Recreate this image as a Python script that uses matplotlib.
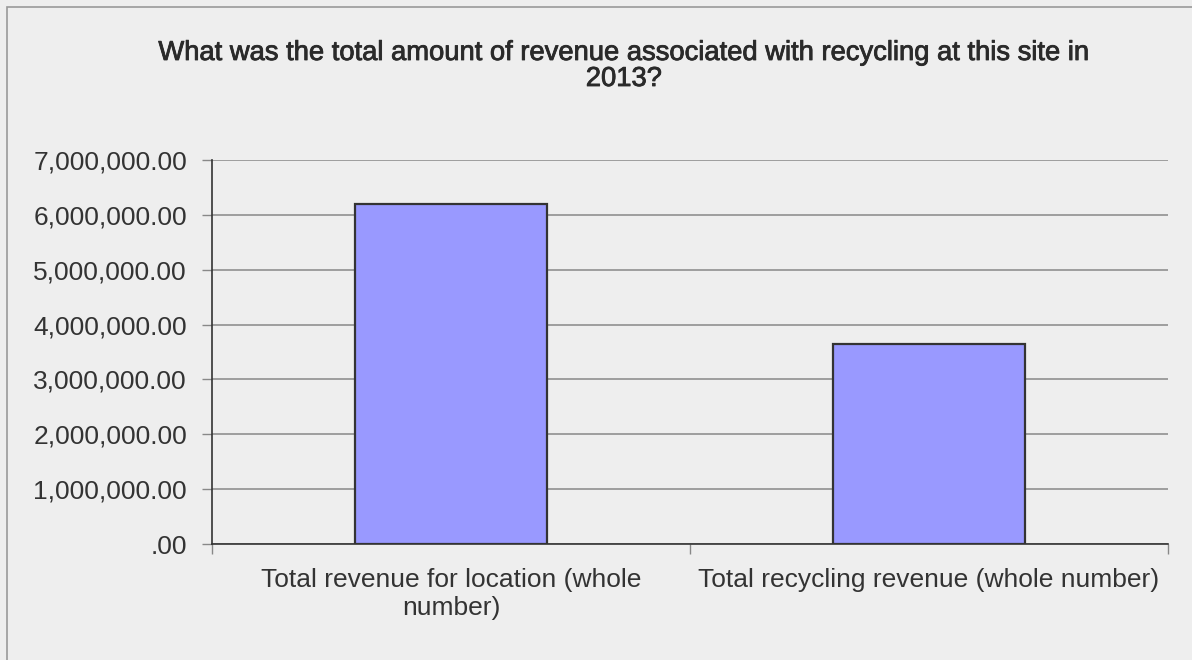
import matplotlib
matplotlib.use("Agg")
import matplotlib.pyplot as plt
import matplotlib.patheffects as pe
from matplotlib.patches import Rectangle
from matplotlib.ticker import FuncFormatter

categories = ["Total revenue for location (whole\nnumber)",
              "Total recycling revenue (whole number)"]
values = [6200000, 3650000]
title = "What was the total amount of revenue associated with recycling at this site in\n2013?"

plt.rcParams['font.family'] = ['Liberation Sans', 'DejaVu Sans']
bg = '#eeeeee'
fig = plt.figure(figsize=(11.92, 6.6), dpi=100, facecolor=bg)
W, H = 1192, 660
ax = fig.add_axes([212 / W, 1 - 544 / H, (1168 - 212) / W, (544 - 160) / H], facecolor=bg)

x = list(range(len(categories)))
ax.bar(x, values, width=0.4, color='#9999ff', edgecolor='#333333', linewidth=1.6, zorder=3)
ax.set_xlim(-0.5, len(categories) - 0.5)
ax.set_ylim(0, 7000000)
ax.set_yticks([i * 1000000 for i in range(8)])

def fmt(v, pos):
    s = f"{v:,.2f}"
    if s.startswith("0."):
        s = s[1:]
    return s
ax.yaxis.set_major_formatter(FuncFormatter(fmt))
ax.grid(axis='y', color='#888888', linewidth=1.1, zorder=0)
ax.set_axisbelow(True)

ax.set_xticks([-0.5, 0.5, 1.5])
ax.set_xticklabels([])
ax.set_xticks(x, minor=True)
ax.set_xticklabels(categories, minor=True, fontsize=19, color='#333333', linespacing=1.25)
ax.tick_params(axis='x', which='minor', length=0, pad=17)
ax.tick_params(axis='x', which='major', length=7, color='#888888', width=1)
ax.tick_params(axis='y', length=7, color='#888888', width=1, labelsize=19,
               labelcolor='#333333', pad=11)

for s in ['top', 'right']:
    ax.spines[s].set_visible(False)
for s in ['left', 'bottom']:
    ax.spines[s].set_color('#333333')
    ax.spines[s].set_linewidth(1.2)

fig.text(624 / W, 1 - 40 / H, title, ha='center', va='top', fontsize=19.7,
         color='#2a2a2a', linespacing=1.0,
         path_effects=[pe.withStroke(linewidth=0.6, foreground='#2a2a2a')])

fig.patches.append(Rectangle((7 / W, -0.1), 1.2, 1 - 7 / H + 0.1, transform=fig.transFigure,
                             fill=False, edgecolor='#999999', linewidth=1.2))

fig.savefig("out.png", dpi=100, facecolor=bg)
